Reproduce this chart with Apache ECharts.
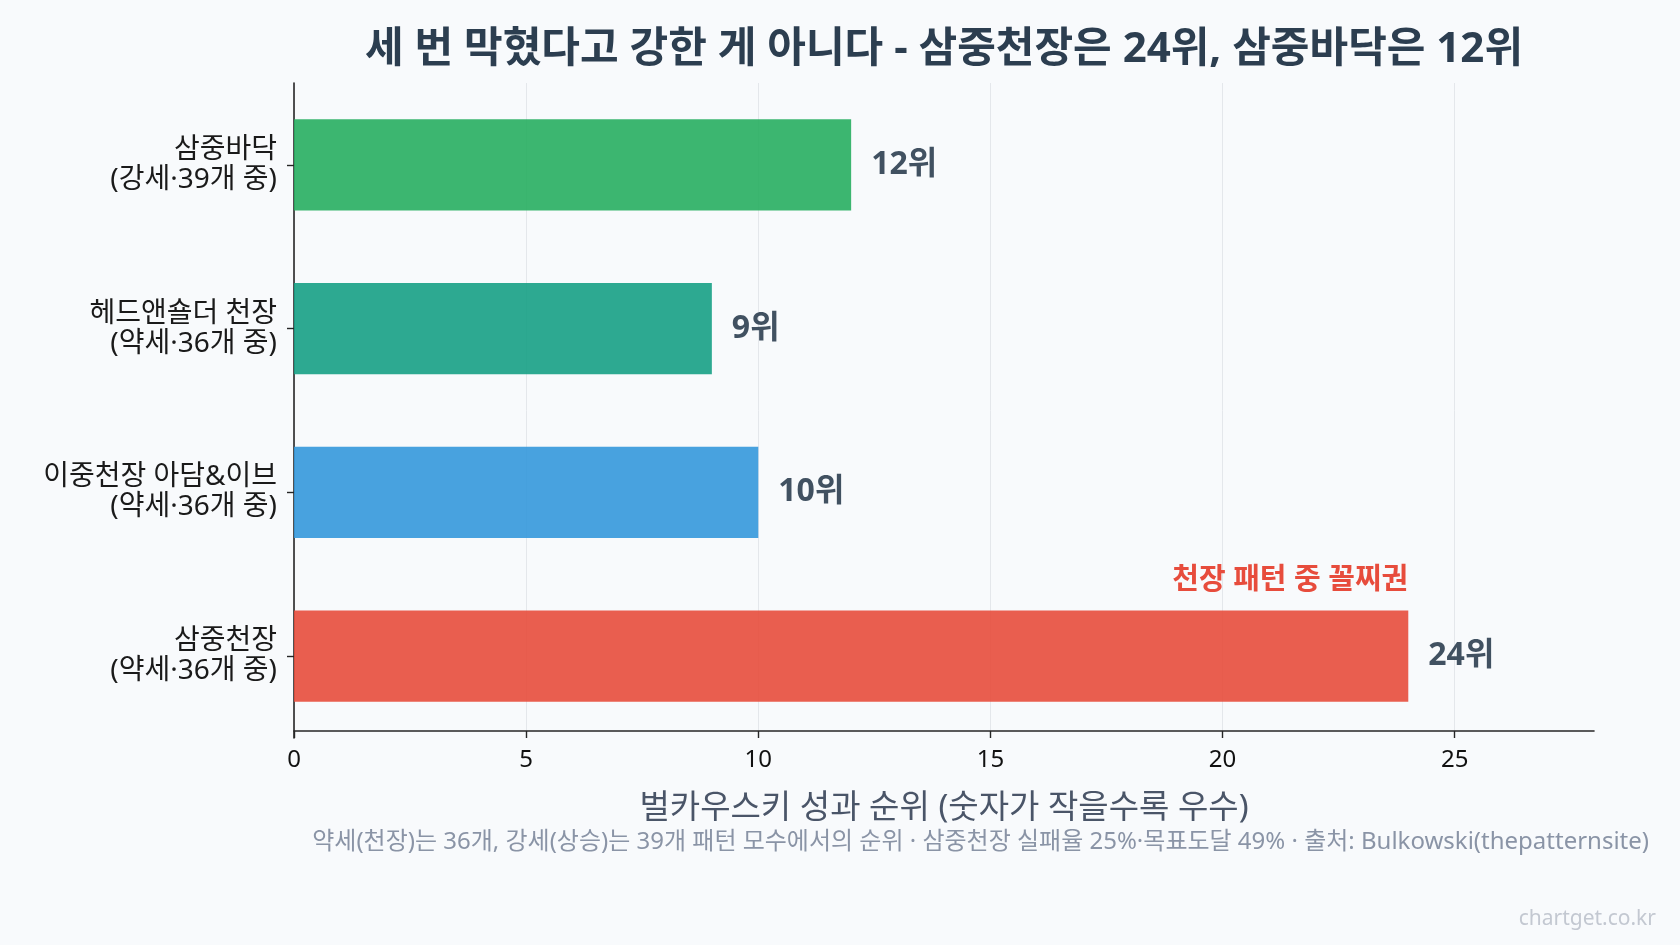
<!DOCTYPE html>
<html>
<head>
<meta charset="utf-8">
<title>삼중천장 순위</title>
<script src="https://cdn.jsdelivr.net/npm/echarts@6/dist/echarts.min.js"></script>
<style>
    html, body { margin: 0; padding: 0; background: #f8fafc; }
    #chart { width: 1680px; height: 945px; }
</style>
</head>
<body>
<div id="chart"></div>
<script>
    // 데이터 (위 -> 아래 순서)
    const patternNames = ['삼중바닥', '헤드앤숄더 천장', '이중천장 아담&이브', '삼중천장'];
    const patternNotes = ['강세·39개 중', '약세·36개 중', '약세·36개 중', '약세·36개 중'];
    const ranks = [12, 9, 10, 24];
    const xTickValues = [0, 5, 10, 15, 20, 25];
    const xMax = 28;

    const barColors = ['#27ae60', '#16a085', '#3498db', '#e74c3c'];
    const font = '"Noto Sans", "Noto Sans CJK KR", sans-serif';

    const categories = patternNames.map(function (n, i) {
        return n + '\n(' + patternNotes[i] + ')';
    });
    const worstIdx = ranks.indexOf(Math.max.apply(null, ranks));

    const option = {
        backgroundColor: '#f8fafc',
        animation: false,
        textStyle: { fontFamily: font },
        grid: {
            left: 294,
            right: 86,
            top: 83,
            bottom: 207,
            containLabel: false,
            outerBoundsMode: 'none'
        },
        graphic: [
            {
                type: 'text', x: 944, y: 50,
                style: {
                    text: '세 번 막혔다고 강한 게 아니다 - 삼중천장은 24위, 삼중바닥은 12위',
                    align: 'center', verticalAlign: 'middle',
                    font: 'bold 42px ' + font, fill: '#2c3e50'
                }
            },
            {
                type: 'text', x: 1649, y: 842,
                style: {
                    text: '약세(천장)는 36개, 강세(상승)는 39개 패턴 모수에서의 순위 · 삼중천장 실패율 25%·목표도달 49% · 출처: Bulkowski(thepatternsite)',
                    align: 'right', verticalAlign: 'middle',
                    font: '24px ' + font, fill: '#8a94a6'
                }
            },
            {
                type: 'text', x: 1656, y: 919,
                style: {
                    text: 'chartget.co.kr',
                    align: 'right', verticalAlign: 'middle',
                    font: '21px ' + font, fill: '#c3c8d1'
                }
            }
        ],
        xAxis: {
            type: 'value',
            min: 0,
            max: xMax,
            interval: 5,
            offset: -7,
            name: '벌카우스키 성과 순위 (숫자가 작을수록 우수)',
            nameLocation: 'middle',
            nameGap: 61,
            nameTextStyle: { fontSize: 33, color: '#4a5568', fontFamily: font },
            axisLine: { show: true, lineStyle: { color: '#262626', width: 1.6 } },
            axisTick: { show: true, length: 7, customValues: xTickValues, lineStyle: { color: '#262626', width: 1.4 } },
            axisLabel: {
                customValues: xTickValues,
                fontSize: 24, color: '#111111', margin: 17
            },
            splitLine: { show: true, lineStyle: { color: '#e4e7eb', width: 1 } }
        },
        yAxis: {
            type: 'category',
            inverse: true,
            data: categories,
            axisLine: { show: true, lineStyle: { color: '#262626', width: 1.6 } },
            axisTick: { show: true, alignWithLabel: true, length: 7, lineStyle: { color: '#262626', width: 1.4 } },
            axisLabel: { fontSize: 28, lineHeight: 30, color: '#1a1a1a', margin: 17 },
            splitLine: { show: false }
        },
        series: [
            {
                type: 'bar',
                barWidth: '55.6%',
                data: ranks.map(function (v, i) {
                    return { value: v, itemStyle: { color: barColors[i], opacity: 0.9 } };
                }),
                label: {
                    show: true,
                    position: 'right',
                    distance: 20,
                    formatter: '{c}위',
                    fontSize: 32,
                    fontWeight: 'bold',
                    color: '#2c3e50'
                },
                markPoint: {
                    symbolSize: 0,
                    silent: true,
                    data: [{ coord: [ranks[worstIdx], categories[worstIdx]] }],
                    label: {
                        show: true,
                        position: 'left',
                        distance: 0,
                        offset: [0, -75],
                        formatter: '천장 패턴 중 꼴찌권',
                        fontSize: 29,
                        fontWeight: 'bold',
                        color: '#e74c3c'
                    }
                }
            }
        ]
    };

    const chart = echarts.init(document.getElementById('chart'));
    chart.setOption(option);
    window.addEventListener('resize', function () {
        chart.resize();
    });
</script>
</body>
</html>
